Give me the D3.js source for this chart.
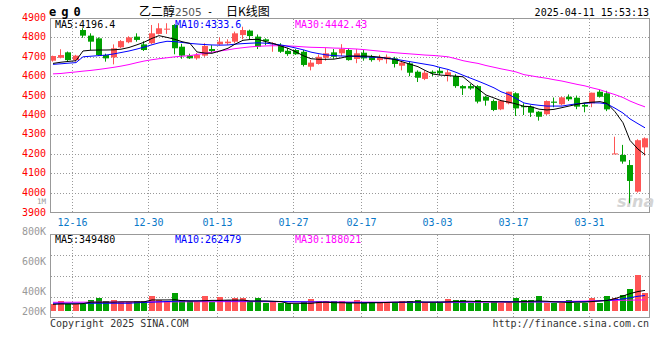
<!DOCTYPE html>
<html>
<head>
<meta charset="utf-8">
<script src="https://cdn.jsdelivr.net/npm/d3@7"></script>
<style>
body { margin: 0; background: #fff; }
svg { display: block; }
</style>
</head>
<body>
<script>
// trading days shown (79 candles)
const dates = ["12-12","12-13","12-16","12-17","12-18","12-19","12-20","12-23","12-24","12-25","12-26","12-27","12-30","12-31",
  "01-02","01-03","01-06","01-07","01-08","01-09","01-10","01-13","01-14","01-15","01-16","01-17","01-20","01-21","01-22","01-23","01-24","01-27",
  "02-05","02-06","02-07","02-10","02-11","02-12","02-13","02-14","02-17","02-18","02-19","02-20","02-21","02-24","02-25","02-26","02-27","02-28",
  "03-03","03-04","03-05","03-06","03-07","03-10","03-11","03-12","03-13","03-14","03-17","03-18","03-19","03-20","03-21","03-24","03-25","03-26","03-27","03-28","03-31",
  "04-01","04-02","04-03","04-07","04-08","04-09","04-10","04-11"];

const opens  = [4680,4695,4723,4683,4838,4809,4795,4709,4697,4749, 4775,4804,4764,4770,4818,4840,4864,4752,4706,4692,
                4706,4740,4764,4770,4778,4812,4835,4804,4790,4766, 4761,4731,4735,4726,4649,4663,4695,4723,4718,4735,
                4689,4721,4700,4683,4687,4692,4654,4666,4623,4586, 4623,4628,4606,4601,4549,4549,4549,4494,4472,4429,
                4460,4512,4446,4443,4417,4404,4469,4455,4494,4489, 4452,4460,4520,4512,4199,4194,4142,4005,4233];
const highs  = [4706,4739,4727,4710,4847,4821,4800,4716,4764,4786, 4806,4821,4780,4864,4873,4873,4868,4767,4716,4720,
                4770,4760,4800,4790,4830,4855,4840,4815,4795,4775, 4770,4745,4740,4735,4684,4712,4745,4740,4765,4745,
                4740,4735,4710,4710,4712,4700,4680,4675,4630,4630, 4630,4645,4633,4610,4554,4560,4554,4499,4480,4478,
                4520,4517,4460,4450,4420,4475,4490,4495,4506,4500, 4461,4515,4530,4525,4288,4246,4168,4275,4285];
const lows   = [4675,4692,4675,4675,4798,4735,4705,4675,4661,4745, 4770,4778,4730,4765,4815,4818,4713,4690,4689,4685,
                4700,4720,4760,4762,4770,4790,4790,4740,4760,4726, 4720,4705,4710,4650,4630,4660,4680,4690,4704,4680,
                4667,4680,4675,4675,4665,4645,4630,4600,4570,4580, 4600,4605,4573,4540,4503,4530,4460,4448,4420,4425,
                4455,4395,4400,4390,4371,4400,4440,4450,4472,4430, 4414,4440,4490,4420,4199,4149,3945,4000,4190];
const closes = [4704,4709,4683,4706,4809,4778,4709,4692,4744,4781, 4800,4787,4735,4821,4847,4845,4744,4706,4692,4709,
                4756,4730,4778,4778,4821,4838,4807,4752,4780,4770, 4726,4714,4713,4658,4670,4700,4718,4700,4740,4683,
                4718,4692,4683,4697,4700,4663,4670,4618,4592,4618, 4615,4615,4620,4549,4537,4537,4469,4474,4426,4474,
                4520,4434,4440,4412,4391,4472,4463,4491,4481,4443, 4443,4515,4494,4429,4202,4160,4060,4270,4280];

const volumes = [113,170,119,119,119,187,227,170,187,147, 147,170,170,255,187,164,306,187,170,159,
                 255,159,238,187,221,221,170,221,136,147, 136,136,119,147,204,164,164,170,170,136,
                 187,136,136,136,136,136,170,170,187,136, 136,147,204,187,187,136,187,136,170,136,
                 136,221,187,187,261,136,136,136,187,136, 136,221,136,261,221,272,374,612,312].map(v => v * 1000);

const ma5  = [4666,4672,4676,4680,4730,4734,4735,4735,4736,4739, 4748,4762,4775,4795,4809,4800,4790,4778,4769,4725,
              4719,4718,4730,4744,4765,4785,4789,4790,4778,4769, 4755,4744,4725,4704,4690,4687,4687,4688,4695,4704,
              4704,4704,4702,4698,4692,4686,4675,4662,4649,4630, 4611,4606,4603,4600,4597,4563,4535,4503,4488,4474,
              4466,4457,4445,4443,4430,4426,4429,4438,4446,4455, 4463,4466,4469,4460,4417,4360,4269,4224,4196];
const ma10 = [4661,4664,4667,4670,4700,4703,4706,4709,4715,4722, 4730,4740,4750,4762,4772,4780,4778,4774,4769,4766,
              4763,4761,4760,4761,4765,4768,4770,4772,4770,4766, 4761,4754,4745,4735,4724,4716,4710,4706,4704,4703,
              4702,4700,4698,4697,4692,4688,4682,4675,4668,4662, 4655,4645,4635,4620,4605,4589,4575,4558,4540,4520,
              4505,4485,4462,4455,4450,4446,4446,4446,4452,4458, 4460,4463,4462,4457,4435,4410,4380,4355,4334];
const ma30 = [4612,4614,4618,4622,4626,4630,4635,4640,4646,4652, 4660,4670,4678,4685,4690,4695,4700,4703,4706,4712,
              4718,4724,4730,4736,4742,4747,4751,4754,4756,4757, 4757,4756,4754,4751,4749,4748,4747,4745,4744,4742,
              4740,4737,4733,4729,4725,4721,4718,4715,4712,4709, 4707,4704,4700,4690,4680,4672,4666,4655,4646,4638,
              4630,4622,4608,4602,4595,4589,4582,4575,4567,4558, 4550,4540,4530,4518,4505,4490,4472,4455,4442];

const volMa5  = [113,119,119,119,125,150,150,150,150,155, 155,155,155,187,187,187,190,175,170,170,
                 175,180,180,185,185,185,170,170,170,165, 160,130,130,130,130,145,150,140,140,135,
                 135,135,140,140,145,150,150,155,155,150, 150,150,155,160,165,165,160,160,155,155,
                 150,155,160,165,170,165,155,150,145,150, 150,160,170,178,210,255,295,330,349].map(v => v * 1000);
const volMa10 = [131,131,131,131,131,131,131,131,131,131, 131,140,145,150,155,160,165,170,172,172,
                 172,172,172,170,170,170,168,166,164,162, 160,158,156,155,154,153,152,150,148,146,
                 145,145,145,145,146,147,148,149,150,150, 150,151,152,153,154,155,156,157,158,158,
                 158,158,158,157,156,155,155,155,156,158, 160,165,172,180,190,205,225,250,262].map(v => v * 1000);
const volMa30 = [148,148,149,149,150,150,151,151,152,152, 152,153,153,154,154,155,155,156,156,157,
                 157,157,158,158,158,158,158,158,157,157, 156,156,155,155,154,154,153,152,152,151,
                 151,150,150,149,149,148,148,148,147,147, 147,147,148,148,148,149,149,150,150,150,
                 151,151,152,152,153,155,157,160,163,166, 169,172,175,178,180,182,184,186,188].map(v => v * 1000);

const priceTicks = [3900,4000,4100,4200,4300,4400,4500,4600,4700,4800,4900];
const volTicks = [200000,400000,600000,800000,1000000];
const volTickText = ["200K","400K","600K","800K","1M"];
const dateTicks = ["12-16","12-30","01-13","01-27","02-17","03-03","03-17","03-31"];

const maNames = ["MA5:4196.4","MA10:4333.6","MA30:4442.43"];
const volMaNames = ["MA5:349480","MA10:262479","MA30:188021"];

const width = 660, height = 360;
const mono = "'DejaVu Sans Mono', 'Liberation Mono', monospace";
const red = "#ff5555", green = "#00a000";

const svg = d3.select("body").append("svg")
    .attr("width", width)
    .attr("height", height);

const x = d3.scaleBand().domain(dates).range([50, 650]).paddingInner(0).paddingOuter(0);
const step = x.step();
const y = d3.scaleLinear().domain([3900, 4900]).range([212, 18]);
const yv = d3.scaleLinear().domain([0, 1300000]).range([311, 234.3]);
// sina puts the volume labels on their own slightly odd scale
const yvLabel = d3.scaleLinear().domain([400000, 800000]).range([290.3, 230.7]);

const gridX = d => Math.floor(x(d) + step) + 0.5;

// ---- main panel grid
const grid = svg.append("g")
    .attr("stroke", "#999")
    .attr("stroke-dasharray", "1,2")
    .attr("fill", "none");
priceTicks.slice(1, -1).forEach(p => {
    grid.append("line")
        .attr("x1", 51).attr("x2", 649)
        .attr("y1", Math.round(y(p)) + 0.5).attr("y2", Math.round(y(p)) + 0.5);
});
dateTicks.forEach(d => {
    grid.append("line")
        .attr("x1", gridX(d)).attr("x2", gridX(d))
        .attr("y1", 19).attr("y2", 212);
    grid.append("line")
        .attr("x1", gridX(d)).attr("x2", gridX(d))
        .attr("y1", 235).attr("y2", 317);
});
[1, 2, 3].forEach(i => {
    const yy = Math.round(234.3 + i * (317.7 - 234.3) / 4) + 0.5;
    grid.append("line").attr("x1", 51).attr("x2", 649).attr("y1", yy).attr("y2", yy);
});

// frames
svg.append("rect").attr("x", 50.5).attr("y", 18.5).attr("width", 599).attr("height", 194)
    .attr("fill", "none").attr("stroke", "#999");
svg.append("rect").attr("x", 50.5).attr("y", 234.5).attr("width", 599).attr("height", 83)
    .attr("fill", "none").attr("stroke", "#999");

// watermark
svg.append("text")
    .attr("x", 617).attr("y", 207)
    .style("font-family", "'DejaVu Sans', sans-serif")
    .style("font-size", "16px")
    .style("font-weight", "bold")
    .style("font-style", "italic")
    .attr("fill", "#d4d4d4")
    .text("sina");

// clip for the plot area
svg.append("clipPath").attr("id", "mainclip")
    .append("rect").attr("x", 51).attr("y", 19).attr("width", 598).attr("height", 193);
svg.append("clipPath").attr("id", "volclip")
    .append("rect").attr("x", 51).attr("y", 235).attr("width", 598).attr("height", 82);

// ---- candles
const candles = svg.append("g").attr("clip-path", "url(#mainclip)");
dates.forEach((d, i) => {
    const o = opens[i], c = closes[i];
    const col = c >= o ? red : green;
    const xs = Math.round(x(d));
    candles.append("line")
        .attr("x1", xs + 2.5).attr("x2", xs + 2.5)
        .attr("y1", y(highs[i])).attr("y2", y(lows[i]))
        .attr("stroke", col);
    const top = y(Math.max(o, c)), bot = y(Math.min(o, c));
    candles.append("rect")
        .attr("x", xs).attr("width", 6)
        .attr("y", top).attr("height", Math.max(1, bot - top))
        .attr("fill", col);
});

const maLine = arr => d3.line()
    .x((v, i) => Math.round(x(dates[i])) + 3)
    .y(v => y(v))(arr);
[[ma30, "#ff00ff"], [ma10, "#0000ff"], [ma5, "#000000"]].forEach(([arr, col]) => {
    candles.append("path").attr("d", maLine(arr))
        .attr("fill", "none").attr("stroke", col).attr("stroke-width", 1);
});

// ---- volume
const vol = svg.append("g").attr("clip-path", "url(#volclip)");
dates.forEach((d, i) => {
    const col = closes[i] >= opens[i] ? red : green;
    vol.append("rect")
        .attr("x", Math.round(x(d))).attr("width", 6)
        .attr("y", Math.round(yv(volumes[i])))
        .attr("height", 311 - Math.round(yv(volumes[i])))
        .attr("fill", col);
});
const volLine = arr => d3.line()
    .x((v, i) => Math.round(x(dates[i])) + 3)
    .y(v => yv(v))(arr);
[[volMa30, "#ff00ff"], [volMa10, "#0000ff"], [volMa5, "#000000"]].forEach(([arr, col]) => {
    vol.append("path").attr("d", volLine(arr))
        .attr("fill", "none").attr("stroke", col).attr("stroke-width", 1);
});

// ---- texts
const txt = (tx, ty, s, col, anchor, size) => svg.append("text")
    .attr("x", tx).attr("y", ty)
    .attr("text-anchor", anchor || "start")
    .attr("fill", col)
    .style("font-family", mono)
    .style("font-size", (size || 10) + "px")
    .text(s);

priceTicks.forEach(p => txt(46, Math.round(y(p)) + (p === 3900 ? 3.5 : 2.5), p, "#ff0000", "end"));
// 1M sits squeezed between 4000 and 3900, keep it a touch smaller
volTicks.forEach((v, i) => txt(46, i === 4 ? 204 : Math.min(yvLabel(v), 311) + 4.2, volTickText[i], "#999", "end", i === 4 ? 7.5 : 10));
dateTicks.forEach(d => txt(gridX(d), 225.5, d, "#0a78c8", "middle"));

const maColors = ["#000000", "#0000ff", "#ff00ff"];
const labelX = [55, 175, 295];
maNames.forEach((s, i) => txt(labelX[i], 28, s, maColors[i]));
volMaNames.forEach((s, i) => txt(labelX[i], 243, s, maColors[i]));

txt(50, 326.5, "Copyright 2025 SINA.COM", "#333");
txt(649, 326.5, "http://finance.sina.com.cn", "#333", "end");
txt(649, 15.5, "2025-04-11 15:53:13", "#000", "end");

svg.append("text")
    .attr("x", 49).attr("y", 15.5)
    .style("font-family", mono)
    .style("font-size", "12px")
    .style("font-weight", "bold")
    .style("letter-spacing", "5px")
    .attr("fill", "#000")
    .text("eg0");

const cjk = "'Noto Sans CJK SC', sans-serif";
svg.append("text").attr("x", 139).attr("y", 16)
    .style("font-family", cjk).style("font-size", "12px").attr("fill", "#000")
    .text("乙二醇");
svg.append("text").attr("x", 175).attr("y", 16)
    .style("font-family", "'DejaVu Sans', sans-serif").style("font-size", "10.5px").attr("fill", "#555")
    .text("2505");
svg.append("text").attr("x", 207).attr("y", 15)
    .style("font-family", mono).style("font-size", "10px").attr("fill", "#000")
    .text("-");
svg.append("text").attr("x", 226).attr("y", 16)
    .style("font-family", cjk).style("font-size", "12px").attr("fill", "#000")
    .text("日K线图");
</script>
</body>
</html>
